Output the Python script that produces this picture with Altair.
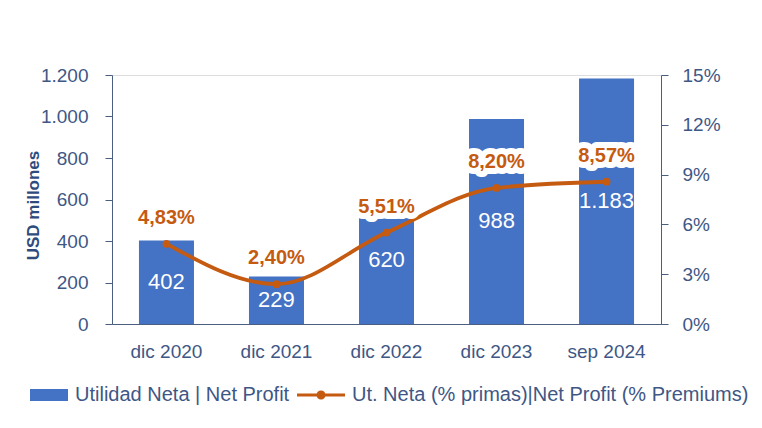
import altair as alt
import pandas as pd

categories = ["dic 2020", "dic 2021", "dic 2022", "dic 2023", "sep 2024"]
profit = [402, 229, 620, 988, 1183]
pct = [4.83, 2.40, 5.51, 8.20, 8.57]
bar_series = "Utilidad Neta | Net Profit"
line_series = "Ut. Neta (% primas)|Net Profit (% Premiums)"
left_ticks = [0, 200, 400, 600, 800, 1000, 1200]
right_ticks = [0, 3, 6, 9, 12, 15]

BAR = "#4472C4"
LINE = "#C55A11"
TXT = "#3E5785"
AXC = "#4A5F80"
FONT = "Liberation Sans"

df = pd.DataFrame({
    "cat": categories,
    "profit": profit,
    "pct": pct,
    "profit_label": [f"{v:,}".replace(",", ".") for v in profit],
    "pct_label": [f"{v:.2f}".replace(".", ",") + "%" for v in pct],
    "sbar": [bar_series] * len(categories),
    "sline": [line_series] * len(categories),
})

x = alt.X("cat:N", sort=categories,
          scale=alt.Scale(paddingInner=0.5, paddingOuter=0.245),
          axis=alt.Axis(title=None, ticks=False, labelPadding=18, labelFontSize=19,
                        labelColor=TXT, domainColor=AXC, labelAngle=0))

left_axis = alt.Axis(values=left_ticks, grid=False, tickSize=7, labelPadding=17,
                     labelFontSize=19, labelColor=TXT, domainColor=AXC, tickColor=AXC,
                     labelExpr="replace(format(datum.value, ','), ',', '.')",
                     title="USD millones", titleFontSize=17, titleFontWeight="bold",
                     titleColor="#2F4B7C", titleX=-79, titleY=130, titleAngle=-90,
                     titleBaseline="middle", titleAlign="center")
right_axis = alt.Axis(values=right_ticks, grid=False, tickSize=7, labelPadding=14,
                      orient="right", labelFontSize=19, labelColor=TXT, domainColor=AXC,
                      tickColor=AXC, labelExpr="datum.value + '%'", title=None)

yl = alt.Scale(domain=[0, 1200])
yr = alt.Scale(domain=[0, 15])

base = alt.Chart(df)

bars = base.mark_bar().encode(
    x=x,
    y=alt.Y("profit:Q", scale=yl, axis=left_axis),
    fill=alt.Fill("sbar:N", scale=alt.Scale(range=[BAR]),
                  legend=alt.Legend(title=None, orient="none", legendX=-82, legendY=301,
                                    symbolType="M-1,-0.316H1V0.316H-1Z", symbolSize=1444,
                                    symbolStrokeWidth=0, labelFontSize=20, labelColor=TXT,
                                    labelLimit=600, labelOffset=7, padding=0)),
)
bar_labels = base.transform_calculate(half="datum.profit / 2").mark_text(
    color="white", fontSize=22, baseline="middle"
).encode(x=x, y=alt.Y("half:Q", scale=yl, axis=left_axis), text="profit_label:N")

line = base.mark_line(color=LINE, strokeWidth=3.8, interpolate="monotone").encode(
    x=x, y=alt.Y("pct:Q", scale=yr, axis=right_axis))
points = base.mark_circle(size=60, opacity=1).encode(
    x=x, y=alt.Y("pct:Q", scale=yr, axis=right_axis),
    color=alt.Color("sline:N", scale=alt.Scale(range=[LINE]),
                    legend=alt.Legend(title=None, orient="none", legendX=185, legendY=296,
                                      symbolType="M-1,-0.0625H1V0.0625H-1Z M0.19,0A0.19,0.19,0,1,1,-0.19,0A0.19,0.19,0,1,1,0.19,0Z",
                                      symbolSize=2304, symbolStrokeWidth=0, symbolOpacity=1,
                                      labelFontSize=20, labelColor=TXT, labelLimit=600,
                                      labelOffset=7, padding=0)))
halo = base.mark_text(dy=-26, fontSize=20, fontWeight="bold", color="white",
                      stroke="white", strokeWidth=12, strokeJoin="round").encode(
    x=x, y=alt.Y("pct:Q", scale=yr, axis=right_axis), text="pct_label:N")
pct_labels = base.mark_text(dy=-26, fontSize=20, fontWeight="bold", color=LINE).encode(
    x=x, y=alt.Y("pct:Q", scale=yr, axis=right_axis), text="pct_label:N")

chart = alt.layer(
    alt.layer(bars, bar_labels),
    alt.layer(line, points, halo, pct_labels),
).resolve_scale(y="independent", fill="independent", color="independent").properties(
    width=549, height=249,
    autosize=alt.AutoSizeParams(type="none"),
    padding={"left": 104, "top": 67, "right": 90, "bottom": 96},
).configure_view(stroke=None).configure(font=FONT)

chart.save("out.html", embed_options={"renderer": "svg", "actions": False})
